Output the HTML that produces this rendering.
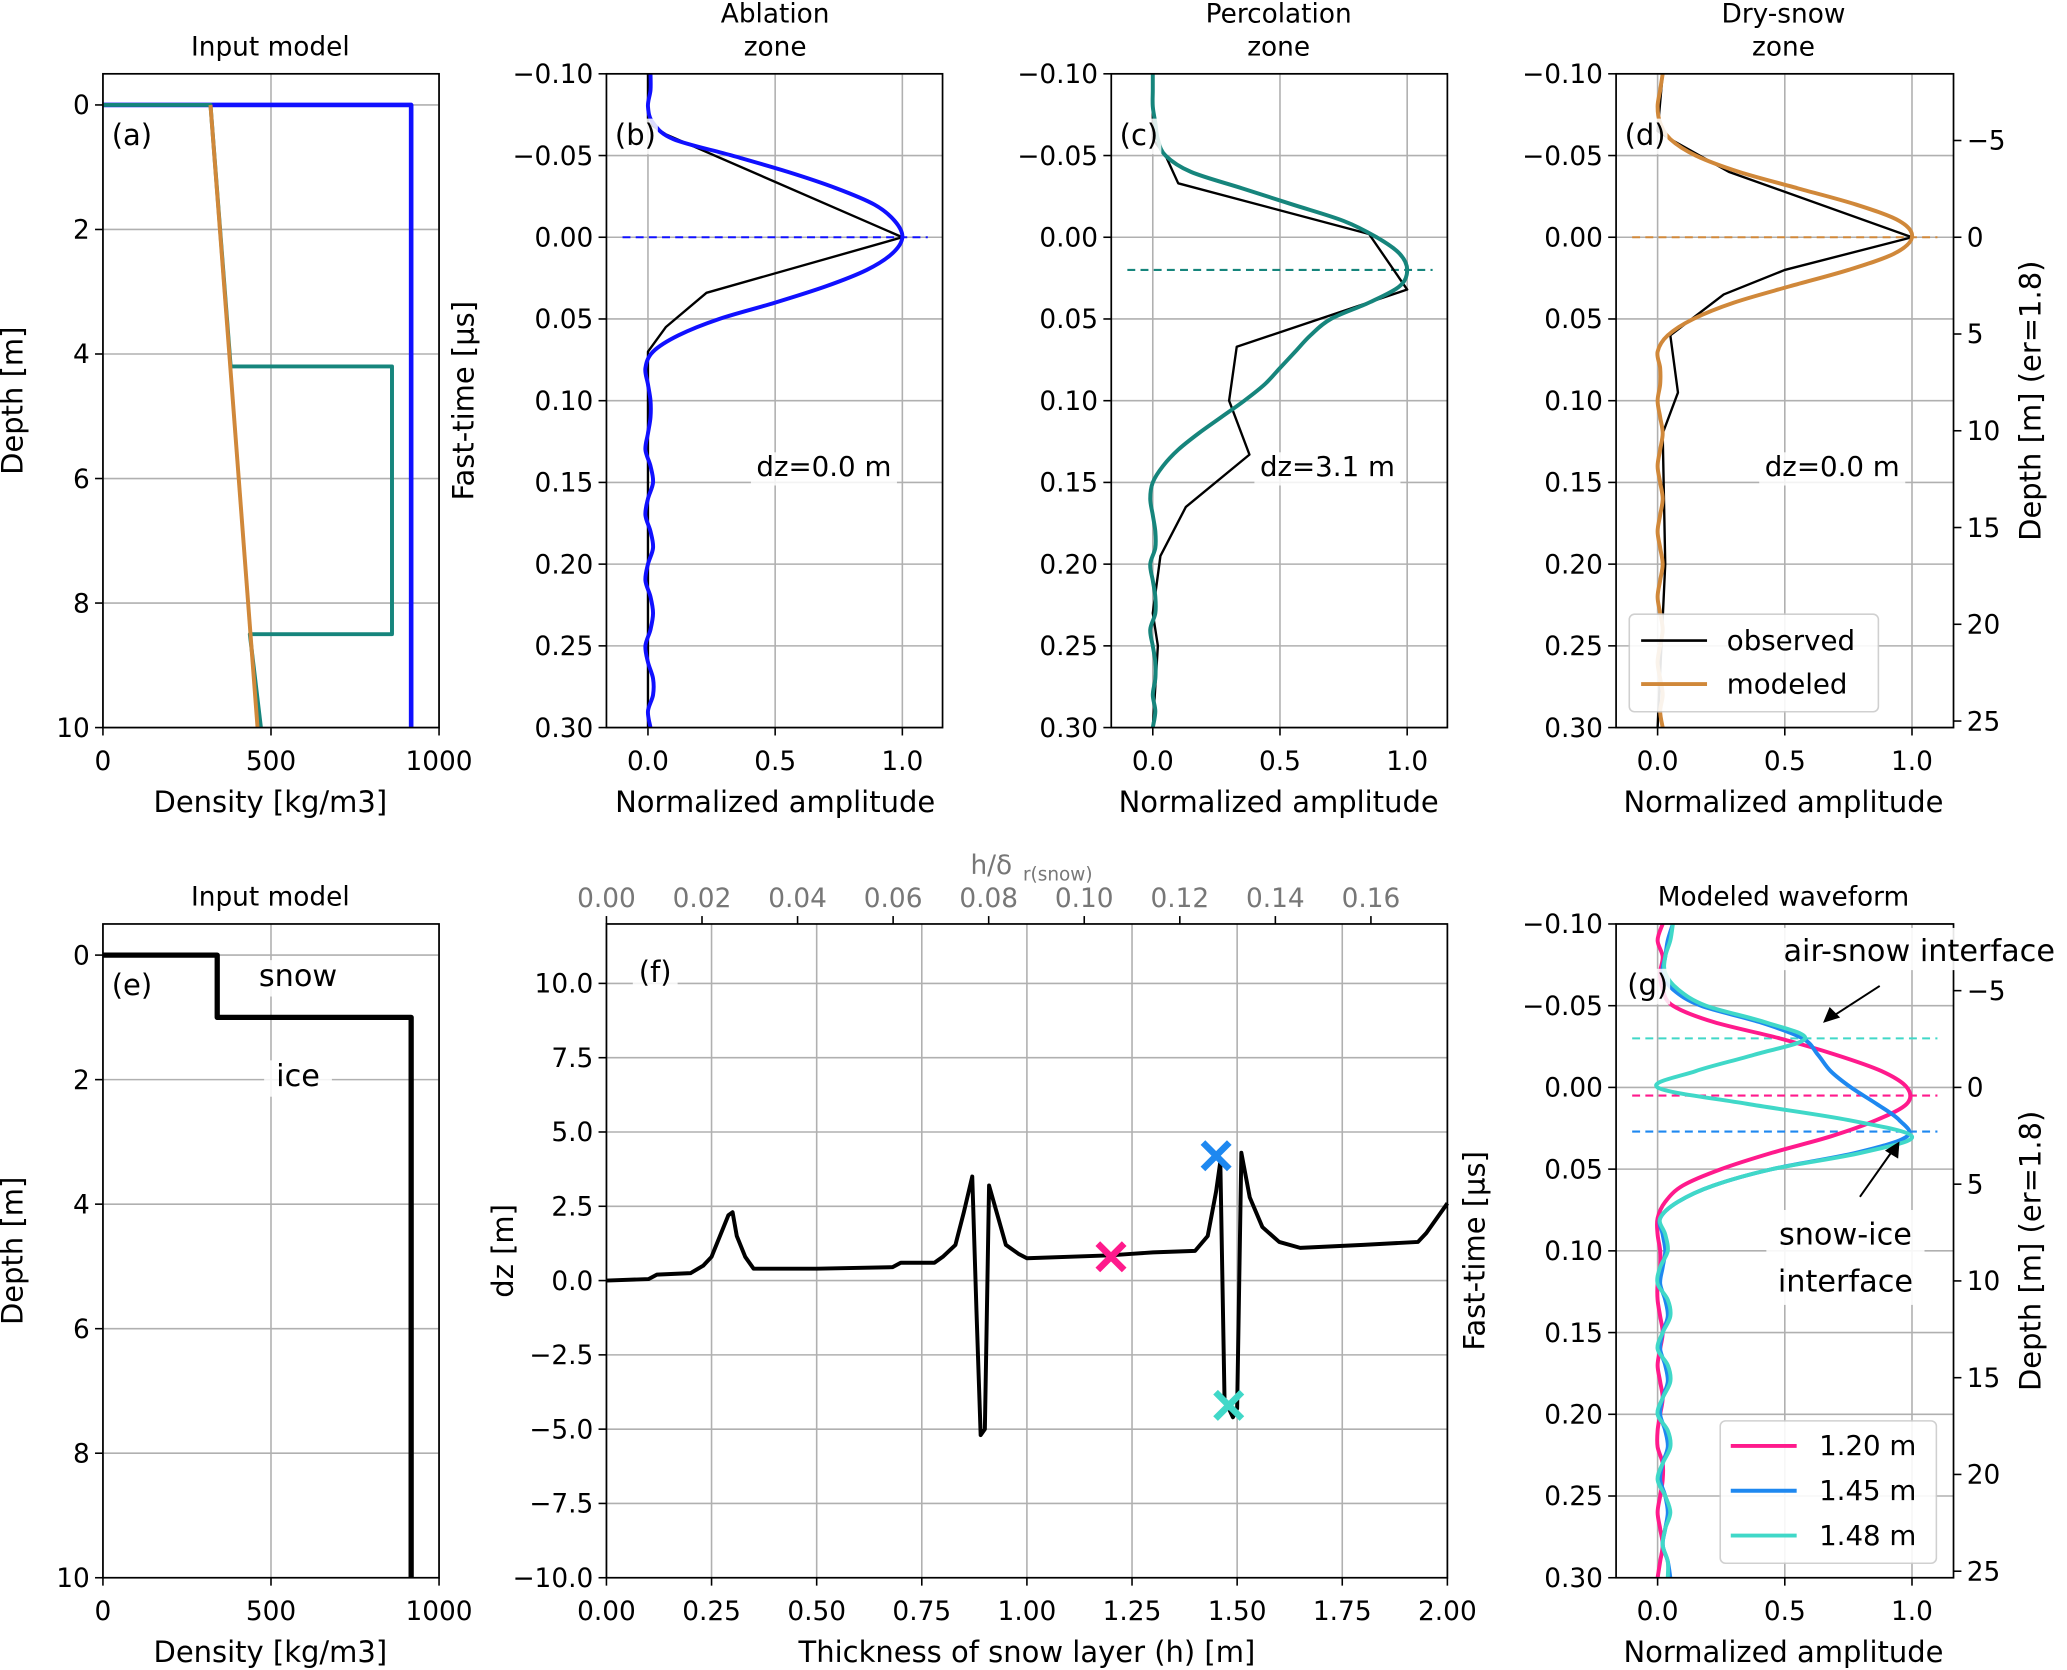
<!DOCTYPE html>
<html><head><meta charset="utf-8"><title>Radar waveform figure</title>
<style>
html,body{margin:0;padding:0;background:#fff;}
svg{display:block;font-family:"DejaVu Sans","Liberation Sans",sans-serif;}
</style></head>
<body>
<svg id="fig" width="2067" height="1670" viewBox="0 0 1568 1267" xmlns="http://www.w3.org/2000/svg"></svg>
<script>
// ---------- DATA ----------
const tGrid = [-0.10,-0.09,-0.08,-0.07,-0.06,-0.05,-0.04,-0.03,-0.02,-0.01,0.00,0.01,0.02,0.03,0.04,0.05,0.06,0.07,0.08,0.09,0.10,0.11,0.12,0.13,0.14,0.15,0.16,0.17,0.18,0.19,0.20,0.21,0.22,0.23,0.24,0.25,0.26,0.27,0.28,0.29,0.30];
const ablationModel = [0.01,0.01,0.0,0.02,0.10,0.33,0.55,0.74,0.89,0.97,1.0,0.96,0.86,0.70,0.50,0.28,0.12,0.02,-0.01,0.0,0.01,0.01,0.0,-0.01,0.01,0.02,0.0,-0.01,0.01,0.02,0.0,-0.01,0.01,0.02,0.01,-0.01,0.0,0.02,0.02,0.0,0.01];
const ablationObsAmp = [0,0,0.07,1.0,0.23,0.07,0.0,0.0];
const ablationObsT = [-0.10,-0.07,-0.063,0.0,0.034,0.055,0.07,0.30];
const percModel = [0.0,0.0,0.0,0.01,0.02,0.05,0.15,0.35,0.55,0.75,0.88,0.97,1.0,0.97,0.85,0.70,0.62,0.56,0.50,0.44,0.36,0.27,0.18,0.10,0.04,0.0,-0.01,0.0,0.01,0.01,-0.01,0.0,0.01,0.01,-0.01,0.0,0.01,0.01,0.0,0.01,0.0];
const percObsAmp = [0,0,0.05,0.1,0.85,1.0,0.33,0.30,0.38,0.13,0.03,0.0,0.02,0.0];
const percObsT = [-0.10,-0.06,-0.05,-0.033,-0.002,0.032,0.067,0.10,0.133,0.165,0.195,0.23,0.25,0.30];
const dryModel = [0.02,0.01,0.0,0.01,0.05,0.15,0.32,0.55,0.78,0.95,1.0,0.93,0.75,0.52,0.30,0.14,0.04,0.0,0.01,0.01,0.0,0.01,0.02,0.01,0.0,0.01,0.02,0.01,0.0,0.01,0.02,0.01,0.0,0.01,0.02,0.01,0.0,0.01,0.02,0.01,0.02];
const dryObsAmp = [0.02,0.0,0.05,0.28,1.0,0.5,0.26,0.05,0.08,0.02,0.03,0.0];
const dryObsT = [-0.10,-0.065,-0.06,-0.04,0.0,0.02,0.035,0.06,0.095,0.12,0.20,0.30];
const dashB = 0.0, dashC = 0.02, dashD = 0.0;
const thickH = [0,0.1,0.12,0.2,0.23,0.25,0.27,0.29,0.3,0.31,0.33,0.35,0.5,0.68,0.7,0.78,0.8,0.83,0.85,0.87,0.88,0.89,0.9,0.91,0.93,0.95,0.98,1.0,1.2,1.25,1.3,1.4,1.43,1.45,1.46,1.47,1.49,1.5,1.51,1.53,1.56,1.6,1.65,1.8,1.93,1.95,2.0];
const dzVals = [0,0.05,0.2,0.25,0.5,0.8,1.5,2.2,2.3,1.5,0.8,0.4,0.4,0.45,0.6,0.6,0.8,1.2,2.3,3.5,-1,-5.2,-5,3.2,2.2,1.2,0.9,0.75,0.85,0.9,0.95,1.0,1.5,3.0,4.0,-4,-4.6,-4.3,4.3,2.8,1.8,1.3,1.1,1.2,1.3,1.6,2.6];
const markH = [1.20,1.45,1.48];
const markDz = [0.8,4.2,-4.2];
const gLabels = ["1.20 m","1.45 m","1.48 m"];
const gPink = [0.02,0.0,0.02,0.01,0.02,0.06,0.22,0.48,0.70,0.88,0.98,0.98,0.86,0.68,0.45,0.25,0.10,0.03,0.0,0.0,0.01,0.01,0.0,0.0,0.01,0.02,0.01,0.0,0.01,0.02,0.01,0.0,0.0,0.02,0.02,0.01,0.0,0.01,0.02,0.01,0.0];
const gBlue = [0.06,0.04,0.03,0.02,0.06,0.17,0.40,0.57,0.63,0.68,0.76,0.86,0.95,0.98,0.78,0.45,0.22,0.08,0.01,0.02,0.03,0.02,0.01,0.03,0.04,0.02,0.01,0.03,0.04,0.02,0.01,0.03,0.04,0.02,0.01,0.03,0.04,0.03,0.02,0.04,0.05];
const gTurq = [0.06,0.05,0.03,0.03,0.08,0.19,0.42,0.58,0.38,0.15,0.0,0.35,0.75,1.0,0.80,0.45,0.22,0.08,0.01,0.03,0.04,0.01,0.0,0.04,0.05,0.02,0.0,0.04,0.05,0.02,0.0,0.04,0.05,0.02,0.0,0.03,0.05,0.03,0.02,0.04,0.04];
const gDash = [0.005,0.027,-0.030];
const densTicks = [0,500,1000];
const depthTicks = [0,2,4,6,8,10];
const ampTicks = [0,0.5,1.0];
const ampLabels = ["0.0","0.5","1.0"];
const timeTicks = [-0.10,-0.05,0.00,0.05,0.10,0.15,0.20,0.25,0.30];
const timeLabels = ["\u22120.10","\u22120.05","0.00","0.05","0.10","0.15","0.20","0.25","0.30"];
const rDepthTicks = [-5,0,5,10,15,20,25];
const rDepthLabels = ["\u22125","0","5","10","15","20","25"];
const hTicks = [0,0.25,0.5,0.75,1.0,1.25,1.5,1.75,2.0];
const hLabels = ["0.00","0.25","0.50","0.75","1.00","1.25","1.50","1.75","2.00"];
const dzTicks = [10,7.5,5,2.5,0,-2.5,-5,-7.5,-10];
const dzLabels = ["10.0","7.5","5.0","2.5","0.0","\u22122.5","\u22125.0","\u22127.5","\u221210.0"];
const topTicks = [0,0.02,0.04,0.06,0.08,0.10,0.12,0.14,0.16];
const topLabels = ["0.00","0.02","0.04","0.06","0.08","0.10","0.12","0.14","0.16"];
const densA_blue = [[0,0],[917,0],[917,10]];
const densA_teal = [[0,0],[320,0],[380,4.2],[860,4.2],[860,8.5],[437,8.5],[470,10]];
const densA_orange = [[320,0],[460,10]];
const densE = [[0,0],[340,0],[340,1],[917,1],[917,10]];

// ---------- HELPERS ----------
const NS="http://www.w3.org/2000/svg";
const svg=document.getElementById('fig');
function mk(tag,attrs,name,parent){
  const el=document.createElementNS(NS,tag);
  for(const k in attrs) el.setAttribute(k,attrs[k]);
  
  
  (parent||svg).appendChild(el);
  return el;
}
function txt(x,y,s,name,opt){
  opt=opt||{};
  const a={x:x,y:y,'font-size':opt.fs||20,'text-anchor':opt.anchor||'middle',fill:opt.fill||'#000'};
  if(opt.rot!==undefined){a.transform='rotate('+opt.rot+' '+x+' '+y+')';}
  if(opt.weight) a['font-weight']=opt.weight;
  const t=mk('text',a,name);
  t.textContent=s; return t;
}
function axes(p){
  p.sx=v=>p.px0+(v-p.xmin)/(p.xmax-p.xmin)*(p.px1-p.px0);
  p.sy=v=>p.py0+(v-p.ymin)/(p.ymax-p.ymin)*(p.py1-p.py0);
  return p;
}
function frame(p,nm){
  const g=mk('g',{},nm+'-grid');
  p.xt.forEach((v,i)=>{const x=p.sx(v);
    mk('line',{x1:x,x2:x,y1:p.py0,y2:p.py1,stroke:'#b0b0b0','stroke-width':1.2},nm+'-xgrid',g);
    mk('line',{x1:x,x2:x,y1:p.py1,y2:p.py1+6,stroke:'#000','stroke-width':1.2},nm+'-xtick',g);
    txt(x,p.py1+32,p.xl[i],nm+'-xtick-label');});
  p.yt.forEach((v,i)=>{const y=p.sy(v);
    mk('line',{x1:p.px0,x2:p.px1,y1:y,y2:y,stroke:'#b0b0b0','stroke-width':1.2},nm+'-ygrid',g);
    mk('line',{x1:p.px0-6,x2:p.px0,y1:y,y2:y,stroke:'#000','stroke-width':1.2},nm+'-ytick',g);
    txt(p.px0-10,y+7,p.yl[i],nm+'-ytick-label',{anchor:'end'});});
}
function border(p,nm){
  mk('rect',{x:p.px0,y:p.py0,width:p.px1-p.px0,height:p.py1-p.py0,fill:'none',stroke:'#000','stroke-width':1.3},nm+'-frame');
}
function rightAxis(p,nm){
  rDepthTicks.forEach((d,i)=>{const y=p.sy(d*0.01184);
    mk('line',{x1:p.px1,x2:p.px1+6,y1:y,y2:y,stroke:'#000','stroke-width':1.2},nm+'-right-tick');
    txt(p.px1+10,y+7,rDepthLabels[i],nm+'-right-tick-label',{anchor:'start'});});
}
function smoothPath(pts){
  let d='M'+pts[0][0]+','+pts[0][1];
  for(let i=0;i<pts.length-1;i++){
    const p0=pts[Math.max(0,i-1)],p1=pts[i],p2=pts[i+1],p3=pts[Math.min(pts.length-1,i+2)];
    const c1=[p1[0]+(p2[0]-p0[0])/6,p1[1]+(p2[1]-p0[1])/6];
    const c2=[p2[0]-(p3[0]-p1[0])/6,p2[1]-(p3[1]-p1[1])/6];
    d+=' C'+c1[0].toFixed(2)+','+c1[1].toFixed(2)+' '+c2[0].toFixed(2)+','+c2[1].toFixed(2)+' '+p2[0].toFixed(2)+','+p2[1].toFixed(2);
  }
  return d;
}
function curve(p,amps,times,color,w,nm,smooth){
  const pts=amps.map((a,i)=>[p.sx(a),p.sy(times[i])]);
  const d=smooth?smoothPath(pts):'M'+pts.map(q=>q[0].toFixed(2)+','+q[1].toFixed(2)).join(' L');
  mk('path',{d:d,fill:'none',stroke:color,'stroke-width':w,'stroke-linejoin':'round'},nm);
}
function hdash(p,t,color,nm){
  const y=p.sy(t);
  mk('line',{x1:p.sx(-0.1),x2:p.sx(1.1),y1:y,y2:y,stroke:color,'stroke-width':1.6,'stroke-dasharray':'6,4'},nm);
}
function boxText(x,y,s,nm,fs){
  const w=s.length*fs*0.6+10;
  mk('rect',{x:x-w/2,y:y-fs*0.85,width:w,height:fs*1.2,fill:'#fff',opacity:0.85},nm+'-bg');
  txt(x,y,s,nm,{fs:fs});
}
function tag(x,y,s,nm){
  mk('rect',{x:x-17,y:y-20,width:34,height:27,fill:'#fff',opacity:0.85},nm+'-bg');
  txt(x,y,s,nm,{fs:22});
}

// ---------- PANEL A ----------
const pa=axes({px0:78,px1:333,py0:56,py1:552,xmin:0,xmax:1000,ymin:-0.5,ymax:10,xt:densTicks,xl:["0","500","1000"],yt:depthTicks,yl:["0","2","4","6","8","10"]});
frame(pa,'panel-a');
curve(pa,densA_blue.map(q=>q[0]),densA_blue.map(q=>q[1]),'#1010ff',3.5,'density-blue',false);
curve(pa,densA_teal.map(q=>q[0]),densA_teal.map(q=>q[1]),'#16857c',3,'density-teal',false);
curve(pa,densA_orange.map(q=>q[0]),densA_orange.map(q=>q[1]),'#d0883a',3,'density-orange',false);
border(pa,'panel-a');
txt(205,42,'Input model','panel-a-title');
txt(205,616,'Density [kg/m3]','panel-a-xlabel',{fs:22});
txt(17,304,'Depth [m]','panel-a-ylabel',{fs:22,rot:-90});
tag(100,110,'(a)','panel-a-tag');

// ---------- PANELS B,C,D ----------
function ampPanel(px0,px1,zero,one){
  const k=one-zero;
  return axes({px0:px0,px1:px1,py0:56,py1:552,xmin:(px0-zero)/k,xmax:(px1-zero)/k,ymin:-0.1,ymax:0.3,xt:ampTicks,xl:ampLabels,yt:timeTicks,yl:timeLabels});
}
const pb=ampPanel(460,715,491.5,684.5);
frame(pb,'panel-b');
hdash(pb,dashB,'#1010ff','panel-b-dash');
curve(pb,ablationObsAmp,ablationObsT,'#000',1.8,'panel-b-observed',false);
curve(pb,ablationModel,tGrid,'#1010ff',3,'panel-b-modeled',true);
border(pb,'panel-b');
txt(588,17,'Ablation','panel-b-title1');txt(588,42,'zone','panel-b-title2');
txt(588,616,'Normalized amplitude','panel-b-xlabel',{fs:22});
txt(359,304,'Fast-time [\u00b5s]','panel-b-ylabel',{fs:22,rot:-90});
tag(482,110,'(b)','panel-b-tag');
boxText(625,361,'dz=0.0 m','panel-b-dz',21);

const pc=ampPanel(843,1098,874.5,1067.5);
frame(pc,'panel-c');
hdash(pc,dashC,'#16857c','panel-c-dash');
curve(pc,percObsAmp,percObsT,'#000',1.8,'panel-c-observed',false);
curve(pc,percModel,tGrid,'#16857c',3,'panel-c-modeled',true);
border(pc,'panel-c');
txt(970,17,'Percolation','panel-c-title1');txt(970,42,'zone','panel-c-title2');
txt(970,616,'Normalized amplitude','panel-c-xlabel',{fs:22});
tag(864,110,'(c)','panel-c-tag');
boxText(1007,361,'dz=3.1 m','panel-c-dz',21);

const pd=ampPanel(1226,1482,1257.5,1450.5);
frame(pd,'panel-d');
hdash(pd,dashD,'#d0883a','panel-d-dash');
curve(pd,dryObsAmp,dryObsT,'#000',1.8,'panel-d-observed',false);
curve(pd,dryModel,tGrid,'#d0883a',3,'panel-d-modeled',true);
border(pd,'panel-d');
rightAxis(pd,'panel-d');
txt(1353,17,'Dry-snow','panel-d-title1');txt(1353,42,'zone','panel-d-title2');
txt(1353,616,'Normalized amplitude','panel-d-xlabel',{fs:22});
txt(1548,304,'Depth [m] (er=1.8)','panel-d-right-label',{fs:22,rot:-90});
tag(1248,110,'(d)','panel-d-tag');
boxText(1390,361,'dz=0.0 m','panel-d-dz',21);
mk('rect',{x:1236,y:466,width:189,height:74,rx:4,fill:'#fff',stroke:'#ccc','stroke-width':1.2,opacity:0.9},'panel-d-legend');
mk('line',{x1:1245,x2:1295,y1:486,y2:486,stroke:'#000','stroke-width':2},'legend-observed-line');
txt(1310,493,'observed','legend-observed-label',{anchor:'start',fs:21});
mk('line',{x1:1245,x2:1295,y1:519,y2:519,stroke:'#d0883a','stroke-width':3},'legend-modeled-line');
txt(1310,526,'modeled','legend-modeled-label',{anchor:'start',fs:21});

// ---------- PANEL E ----------
const pe=axes({px0:78,px1:333,py0:701,py1:1197,xmin:0,xmax:1000,ymin:-0.5,ymax:10,xt:densTicks,xl:["0","500","1000"],yt:depthTicks,yl:["0","2","4","6","8","10"]});
frame(pe,'panel-e');
curve(pe,densE.map(q=>q[0]),densE.map(q=>q[1]),'#000',4,'panel-e-density',false);
border(pe,'panel-e');
txt(205,687,'Input model','panel-e-title');
txt(205,1261,'Density [kg/m3]','panel-e-xlabel',{fs:22});
txt(17,949,'Depth [m]','panel-e-ylabel',{fs:22,rot:-90});
tag(100,755,'(e)','panel-e-tag');
boxText(226,748,'snow','snow-label',23);
boxText(226,824,'ice','ice-label',23);

// ---------- PANEL F ----------
const pf=axes({px0:460,px1:1098,py0:701,py1:1197,xmin:0,xmax:2,ymin:12,ymax:-10,xt:hTicks,xl:hLabels,yt:dzTicks,yl:dzLabels});
frame(pf,'panel-f');
topTicks.forEach((v,i)=>{const x=460+v*3625;
  mk('line',{x1:x,x2:x,y1:695,y2:701,stroke:'#000','stroke-width':1.2},'panel-f-top-tick');
  txt(x,688,topLabels[i],'panel-f-top-tick-label',{fill:'#777'});});
curve(pf,thickH,dzVals,'#000',3,'panel-f-dz-line',false);
const mcol=['#ff1a8c','#1e88f0','#40d8c8'];
markH.forEach((h,i)=>{const x=pf.sx(h),y=pf.sy(markDz[i]);
  mk('path',{d:'M'+(x-10)+','+(y-10)+' L'+(x+10)+','+(y+10)+' M'+(x-10)+','+(y+10)+' L'+(x+10)+','+(y-10),stroke:mcol[i],'stroke-width':5,fill:'none'},'marker-'+i);});
border(pf,'panel-f');
txt(779,1261,'Thickness of snow layer (h) [m]','panel-f-xlabel',{fs:22});
txt(389,949,'dz [m]','panel-f-ylabel',{fs:22,rot:-90});
txt(752,663,'h/\u03b4','panel-f-top-label',{fs:20,fill:'#777'});
txt(776,668,'r(snow)','panel-f-top-label-sub',{fs:14,fill:'#777',anchor:'start'});
tag(497,745,'(f)','panel-f-tag');

// ---------- PANEL G ----------
const pg=axes({px0:1226,px1:1482,py0:701,py1:1197,xmin:(1226-1257.5)/193,xmax:(1482-1257.5)/193,ymin:-0.1,ymax:0.3,xt:ampTicks,xl:ampLabels,yt:timeTicks,yl:timeLabels});
frame(pg,'panel-g');
gDash.forEach((t,i)=>hdash(pg,t,mcol[i],'panel-g-dash-'+i));
curve(pg,gPink,tGrid,mcol[0],3,'panel-g-pink',true);
curve(pg,gBlue,tGrid,mcol[1],3,'panel-g-blue',true);
curve(pg,gTurq,tGrid,mcol[2],3,'panel-g-turquoise',true);
border(pg,'panel-g');
rightAxis(pg,'panel-g');
txt(1353,687,'Modeled waveform','panel-g-title');
txt(1353,1261,'Normalized amplitude','panel-g-xlabel',{fs:22});
txt(1126,949,'Fast-time [\u00b5s]','panel-g-ylabel',{fs:22,rot:-90});
txt(1548,949,'Depth [m] (er=1.8)','panel-g-right-label',{fs:22,rot:-90});
tag(1250,755,'(g)','panel-g-tag');
mk('rect',{x:1305,y:1078,width:164,height:108,rx:4,fill:'#fff',stroke:'#ccc','stroke-width':1.2,opacity:0.9},'panel-g-legend');
gLabels.forEach((s,i)=>{const y=1097+i*34;
  mk('line',{x1:1313,x2:1363,y1:y,y2:y,stroke:mcol[i],'stroke-width':3},'legend-line-'+i);
  txt(1380,y+7,s,'legend-label-'+i,{anchor:'start',fs:21});});
mk('rect',{x:1342,y:704,width:226,height:32,fill:'#fff',opacity:0.9},'air-snow-bg');
txt(1456,729,'air-snow interface','air-snow-label',{fs:23});
mk('path',{d:'M1426,748 L1392,770',stroke:'#000','stroke-width':1.5,fill:'none'},'air-snow-arrow');
mk('path',{d:'M1383,776 L1388,764 L1396,772 Z',fill:'#000'},'air-snow-arrowhead');
mk('rect',{x:1340,y:918,width:120,height:72,fill:'#fff',opacity:0.9},'snow-ice-bg');
txt(1400,944,'snow-ice','snow-ice-label-1',{fs:23});
txt(1400,980,'interface','snow-ice-label-2',{fs:23});
mk('path',{d:'M1411,908 L1435,874',stroke:'#000','stroke-width':1.5,fill:'none'},'snow-ice-arrow');
mk('path',{d:'M1441,866 L1440,879 L1430,873 Z',fill:'#000'},'snow-ice-arrowhead');
</script>
</body></html>
